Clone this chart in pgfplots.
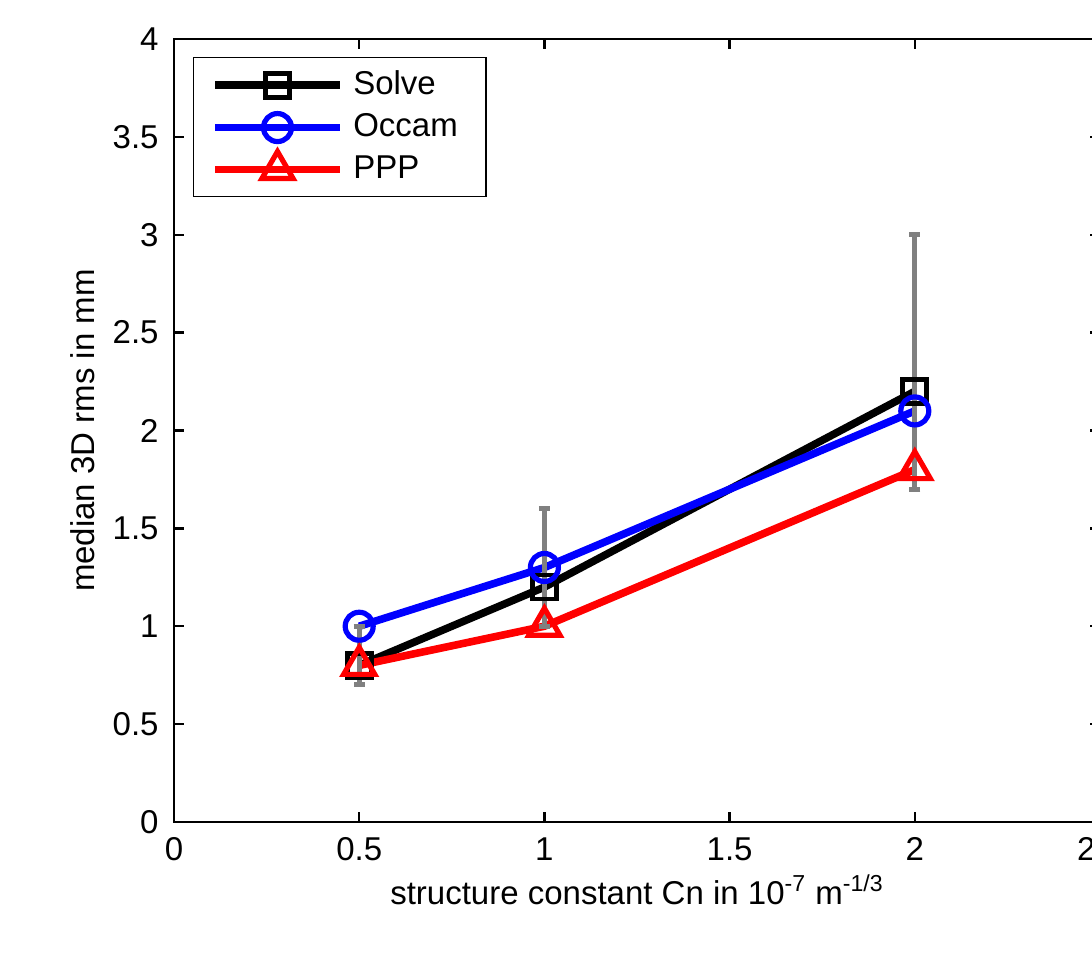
\documentclass[border=0pt]{standalone}
\usepackage{fontspec}
\setmainfont{Liberation Sans}
\usepackage{pgfplots}
\pgfplotsset{compat=1.18}
\begin{document}
\fontsize{16.5}{19}\selectfont
\begin{tikzpicture}
\begin{axis}[
  at={(0,0)}, anchor=south west,
  scale only axis,
  width=463pt, height=391.5pt,
  xmin=0, xmax=2.5, ymin=0, ymax=4,
  xtick={0,0.5,1,1.5,2,2.5},
  ytick={0,0.5,1,1.5,2,2.5,3,3.5,4},
  xticklabels={0,0.5,1,1.5,2,2.5},
  yticklabels={0,0.5,1,1.5,2,2.5,3,3.5,4},
  tick align=inside,
  major tick length=5pt,
  tick style={line width=1.2pt, black},
  axis line style={line width=1.4pt},
  tick label style={font=\fontsize{16.5}{19}\selectfont},
  label style={font=\fontsize{16.5}{19}\selectfont},
  xticklabel style={yshift=-2pt},
  yticklabel style={xshift=-2pt},
  xlabel={structure constant Cn in 10\textsuperscript{-7} m\textsuperscript{-1/3}},
  ylabel={median 3D rms in mm},
  xlabel style={yshift=4pt},
  ylabel style={yshift=-2pt},
  legend cell align=left,
  legend style={at={(rel axis cs:0,1)}, anchor=north west, xshift=9.5pt, yshift=-9pt,
    draw=black, line width=0.7pt, inner xsep=9pt, inner ysep=4.5pt, row sep=3pt,
    font=\fontsize{16.5}{19}\selectfont,
    nodes={inner xsep=5pt}},
  legend image code/.code={\draw[mark repeat=2,mark phase=2] plot coordinates {(0pt,0pt)(31pt,0pt)(62pt,0pt)};},
]
\addplot[black, line width=3.8pt, mark=square, mark size=6pt, mark options={line width=2.4pt, solid}] coordinates {(0.5,0.8)(1,1.2)(2,2.2)};
\addlegendentry{Solve}
\addplot[blue, line width=3.8pt, mark=o, mark size=7pt, mark options={line width=2.6pt, solid}] coordinates {(0.5,1.0)(1,1.3)(2,2.1)};
\addlegendentry{Occam}
\addplot[red, line width=3.8pt, mark=triangle, mark size=9pt, mark options={line width=2.6pt, solid}] coordinates {(0.5,0.8)(1,1.0)(2,1.8)};
\addlegendentry{PPP}
\addplot[forget plot, draw=none, mark=none,
  error bars/.cd, y dir=both, y explicit,
  error bar style={draw=gray, line width=2.5pt},
  error mark options={rotate=90, mark size=2.8pt, line width=2.5pt, draw=gray}]
  coordinates {(0.5,0.85) +- (0,0.15) (1,1.3) +- (0,0.3) (2,2.35) +- (0,0.65)};
\end{axis}
\pgfresetboundingbox
\path[use as bounding box] (-87pt,-67.5pt) rectangle (459pt,411pt);
\end{tikzpicture}
\end{document}
